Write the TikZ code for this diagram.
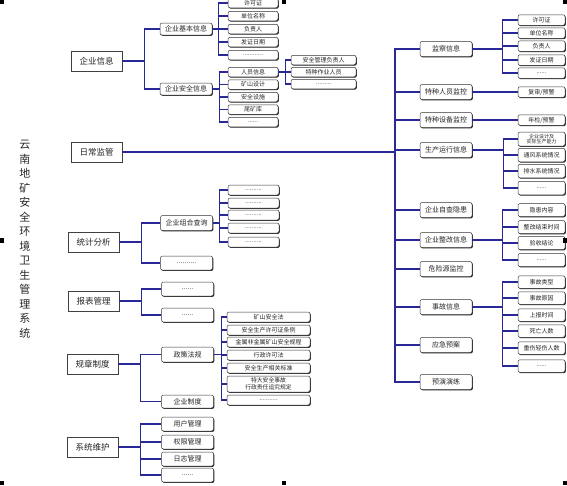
\documentclass[tikz,border=0pt]{standalone}
\usepackage{fontspec}
\setmainfont{Noto Sans CJK SC}
\usetikzlibrary{shadows}
\definecolor{linkblue}{RGB}{40,40,150}
\tikzset{>=stealth,
  mainbox/.style={draw=black!75, line width=0.8pt, fill=white, minimum width=51, minimum height=20, inner sep=0pt, text=black!85, font=\fontsize{8.5}{9}\selectfont},
  subbox/.style={draw=black!80, rounded corners=2pt, line width=0.5pt, fill=white, drop shadow={shadow xshift=0.8pt, shadow yshift=-0.9pt, fill=black!85, opacity=1}, inner sep=0pt, minimum width=52, minimum height=14, text=black!85, font=\fontsize{7}{7.5}\selectfont},
  leafbox/.style={subbox, minimum width=50, minimum height=9.5, font=\fontsize{6}{6.5}\selectfont},
  link/.style={draw=linkblue, line width=1.1pt},
}

\begin{document}
\begin{tikzpicture}[x=1pt, y=-1pt]
\useasboundingbox (0,0) rectangle (567,485);

% title
\node[align=center, text=black!85, font=\fontsize{11}{14.5}\selectfont] (title) at (25,239) {云\\南\\地\\矿\\安\\全\\环\\境\\卫\\生\\管\\理\\系\\统};

% main boxes
\node[mainbox] (qyxx) at (96.5,61) {企业信息};
\node[mainbox] (rcjg) at (96.5,152) {日常监管};
\node[mainbox] (tjfx) at (93.5,242) {统计分析};
\node[mainbox] (bbgl) at (93.5,301) {报表管理};
\node[mainbox] (gzzd) at (92.5,364) {规章制度};
\node[mainbox] (xtwh) at (92.5,447) {系统维护};

% 企业信息
\draw[link] (qyxx.east) -- ++(22,0) coordinate (qyxxb);
\node[subbox, minimum height=12] (jbxx) at (186,29) {企业基本信息};
\node[subbox, minimum height=12] (aqxx) at (186,89) {企业安全信息};
\draw[link] (qyxxb) |- (jbxx.west);
\draw[link] (qyxxb) |- (aqxx.west);
\draw[link] (jbxx.east) -- ++(6,0) coordinate (jbxxb);
\foreach \n/\y/\t in {jb1/3/许可证, jb2/16/单位名称, jb3/29/负责人, jb4/42/发证日期, jb5/55/{............}}{
  \node[leafbox] (\n) at (253,\y) {\t};
  \draw[link] (jbxxb) |- (\n.west);
}
\draw[link] (aqxx.east) -- ++(7,0) coordinate (aqxxb);
\foreach \n/\y/\t in {ryxx/72/人员信息, aq2/84.5/矿山设计, aq3/97/安全设施, aq4/109.5/尾矿库, aq5/122/{......}}{
  \node[leafbox] (\n) at (253,\y) {\t};
  \draw[link] (aqxxb) |- (\n.west);
}
\draw[link] (ryxx.east) -- ++(7,0) coordinate (ryxxb);
\foreach \n/\y/\t in {ry1/60/安全管理负责人, ry2/72/特种作业人员, ry3/84/{.........}}{
  \node[leafbox, minimum width=65] (\n) at (323.5,\y) {\t};
  \draw[link] (ryxxb) |- (\n.west);
}

% 日常监管
\coordinate (trunk) at (395,152);
\draw[link, line width=1.7pt] (rcjg.east) -- (trunk);
\foreach \n/\y/\t in {jcxx/49/监察信息, tzry/92/特种人员监控, tzsb/120/特种设备监控, scyx/150/生产运行信息, zcyh/210/企业自查隐患, zgxx/240/企业整改信息, wxy/269/危险源监控, sgxx/307/事故信息, yjya/345/应急预案, yyyl/382/预演演练}{
  \node[subbox, minimum height=15] (\n) at (446,\y) {\t};
  \draw[link] (trunk) |- (\n.west);
}
\draw[link] (jcxx.east) -- ++(30,0) coordinate (jcxxb);
\foreach \n/\y/\t in {jc1/20/许可证, jc2/33/单位名称, jc3/46/负责人, jc4/60/发证日期, jc5/73/{......}}{
  \node[leafbox, minimum width=47, minimum height=10.5] (\n) at (541.5,\y) {\t};
  \draw[link] (jcxxb) |- (\n.west);
}
\node[leafbox, minimum width=47, minimum height=10.5] (fsyj) at (541.5,92) {复审/预警};
\draw[link] (tzry.east) -- (fsyj.west);
\node[leafbox, minimum width=47, minimum height=10.5] (njyj) at (541.5,120) {年检/预警};
\draw[link] (tzsb.east) -- (njyj.west);

\draw[link] (scyx.east) -- ++(31,0) coordinate (scyxb);
\node[leafbox, minimum width=47, minimum height=14, align=center, font=\fontsize{5}{5.4}\selectfont] (sc1) at (541.5,139) {企业设计及\\实际生产能力};
\draw[link] (scyxb) |- (sc1.west);
\foreach \n/\y/\t in {sc2/155/通风系统情况, sc3/171/排水系统情况, sc4/188/{......}}{
  \node[leafbox, minimum width=47, minimum height=13.5] (\n) at (541.5,\y) {\t};
  \draw[link] (scyxb) |- (\n.west);
}
\draw[link] (zgxx.east) -- ++(30,0) coordinate (zgxxb);
\foreach \n/\y/\t in {zg1/210/隐患内容, zg2/227/整改结束时间, zg3/243/验收结论, zg4/260/{......}}{
  \node[leafbox, minimum width=47, minimum height=13] (\n) at (541.5,\y) {\t};
  \draw[link] (zgxxb) |- (\n.west);
}
\draw[link] (sgxx.east) -- ++(30,0) coordinate (sgxxb);
\foreach \n/\y/\t in {sg1/282/事故类型, sg2/298/事故原因, sg3/315/上报时间, sg4/331/死亡人数, sg5/348/重伤轻伤人数, sg6/366/{......}}{
  \node[leafbox, minimum width=47, minimum height=12.5] (\n) at (541.5,\y) {\t};
  \draw[link] (sgxxb) |- (\n.west);
}

% 统计分析
\draw[link] (tjfx.east) -- ++(22,0) coordinate (tjfxb);
\node[subbox, minimum height=15] (zhcx) at (186.5,223) {企业组合查询};
\node[subbox] (tj2) at (186.5,263) {..........};
\draw[link] (tjfxb) |- (zhcx.west);
\draw[link] (tjfxb) |- (tj2.west);
\draw[link] (zhcx.east) -- ++(7,0) coordinate (zhcxb);
\foreach \n/\y in {zh1/190, zh2/203, zh3/215, zh4/228, zh5/242}{
  \node[leafbox, minimum width=51, minimum height=10] (\n) at (253.5,\y) {..........};
  \draw[link] (zhcxb) |- (\n.west);
}

% 报表管理
\draw[link] (bbgl.east) -- ++(22,0) coordinate (bbglb);
\foreach \n/\y in {bb1/289, bb2/315}{
  \node[subbox] (\n) at (187.5,\y) {......};
  \draw[link] (bbglb) |- (\n.west);
}

% 规章制度
\draw[link] (gzzd.east) -- ++(22,0) coordinate (gzzdb);
\node[subbox, minimum height=15] (zcfg) at (187.5,354.5) {政策法规};
\node[subbox, minimum height=13] (qyzd) at (187.5,401.5) {企业制度};
\draw[link] (gzzdb) |- (zcfg.west);
\draw[link] (gzzdb) |- (qyzd.west);
\draw[link] (zcfg.east) -- ++(8,0) coordinate (zcfgb);
\foreach \n/\y/\t in {fg1/317/矿山安全法, fg2/330/安全生产许可证条例, fg3/342/金属非金属矿山安全规程, fg4/355/行政许可法, fg5/368/安全生产相关标准, fg7/400/{...........}}{
  \node[leafbox, minimum width=83, minimum height=10] (\n) at (268.5,\y) {\t};
  \draw[link] (zcfgb) |- (\n.west);
}
\node[leafbox, minimum width=83, minimum height=16, align=center, font=\fontsize{5.8}{6.6}\selectfont] (fg6) at (268.5,384) {特大安全事故\\行政责任追究规定};
\draw[link] (zcfgb) |- (fg6.west);

% 系统维护
\draw[link] (xtwh.east) -- ++(22,0) coordinate (xtwhb);
\foreach \n/\y/\t in {wh1/424/用户管理, wh2/442/权限管理, wh3/459/日志管理, wh4/475/{......}}{
  \node[subbox] (\n) at (187.5,\y) {\t};
  \draw[link] (xtwhb) |- (\n.west);
}

% handles
\fill (0,0) rectangle (4,4);
\fill (282,0) rectangle (286,4);
\fill (563,0) rectangle (567,4);
\fill (0,238) rectangle (4,243);
\fill (563,238) rectangle (567,243);
\fill (0,481) rectangle (4,485);
\fill (282,481) rectangle (286,485);
\fill (563,481) rectangle (567,485);
\end{tikzpicture}
\end{document}
